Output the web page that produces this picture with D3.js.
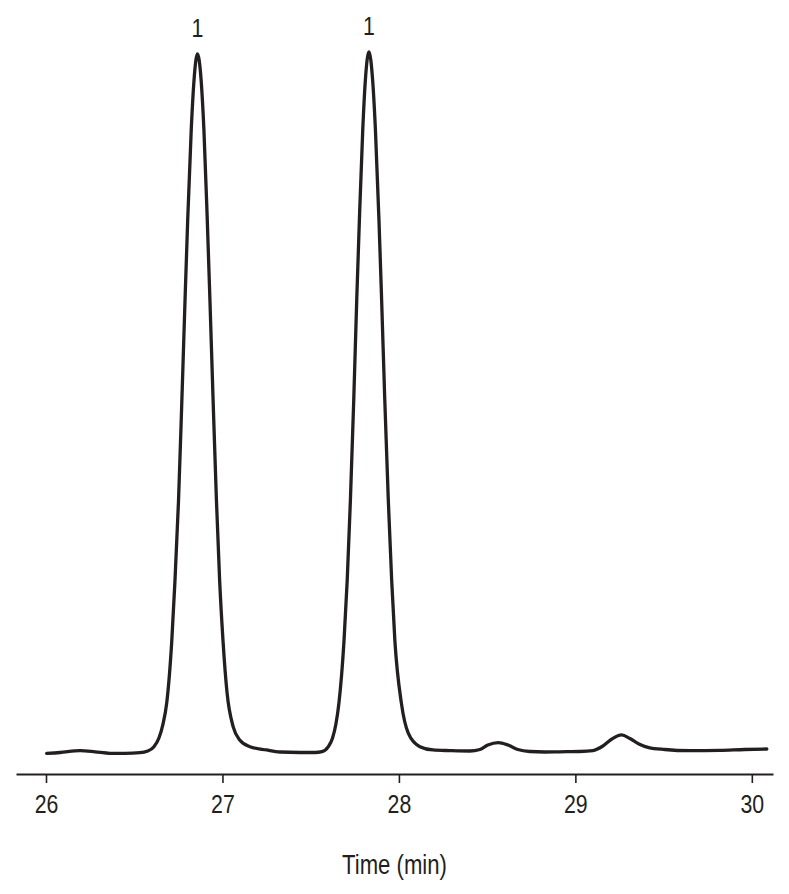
<!DOCTYPE html>
<html>
<head>
<meta charset="utf-8">
<script src="https://cdn.jsdelivr.net/npm/d3@7"></script>
<style>
  html, body { margin: 0; padding: 0; background: #fff; }
  svg { display: block; }
  text { font-family: "Liberation Sans", Arial, sans-serif; fill: #231f20; }
</style>
</head>
<body>
<svg id="chart" width="789" height="894"></svg>
<script>
// Retention time (min)
const times = [
  26.004, 26.079, 26.193, 26.278, 26.363, 26.448, 26.533, 26.572,
  26.612, 26.640, 26.663, 26.684, 26.713, 26.731, 26.751, 26.770,
  26.788, 26.803, 26.823, 26.839, 26.858, 26.879, 26.895, 26.914,
  26.929, 26.947, 26.966, 26.984, 27.003, 27.026, 27.061, 27.099,
  27.156, 27.250, 27.326, 27.439, 27.524, 27.564, 27.600, 27.624,
  27.643, 27.660, 27.689, 27.707, 27.725, 27.744, 27.761, 27.776,
  27.795, 27.810, 27.830, 27.851, 27.867, 27.887, 27.902, 27.920,
  27.940, 27.959, 27.977, 28.014, 28.053, 28.119, 28.193, 28.289,
  28.402, 28.459, 28.504, 28.563, 28.618, 28.674, 28.742, 28.827,
  28.912, 29.025, 29.099, 29.156, 29.207, 29.262, 29.309, 29.360,
  29.416, 29.507, 29.649, 29.819, 29.960, 30.085
];
// Detector signal (relative, % of tallest peak)
const signal = [
  -0.19, -0.07, 0.19, 0.03, -0.19, -0.21, -0.10, 0.10,
  0.76, 2.0, 4.0, 7.0, 16, 24.6, 36, 50.4,
  64.8, 76.2, 89.1, 96.3, 100, 96.3, 89.1, 76.2,
  64.8, 50.4, 36, 24.6, 16, 8.5, 3.6, 1.7,
  0.76, 0.29, 0.0, -0.07, -0.07, 0.05, 0.76, 2.0,
  4.0, 7.0, 16, 24.6, 36, 50.4, 64.8, 76.2,
  89.1, 96.3, 100.3, 96.3, 89.1, 76.2, 64.8, 50.4,
  36, 24.6, 16, 7.0, 2.7, 0.76, 0.29, 0.2,
  0.14, 0.36, 1.0, 1.35, 1.0, 0.36, 0.07, 0.0,
  0.03, 0.07, 0.2, 0.86, 1.86, 2.44, 1.93, 1.15,
  0.64, 0.36, 0.19, 0.24, 0.36, 0.43
];
// Peak annotations
const peakTimes = [26.858, 27.830];
const peakHeights = [100, 100.3];
const peakLabels = ["1", "1"];
// Axis
const xTicks = [26, 27, 28, 29, 30];
const xTitle = "Time (min)";

const svg = d3.select("#chart");
const ink = "#231f20";
const narrow = 0.82;

const x = d3.scaleLinear().domain([25.83, 30.12]).range([16, 773]);
const y = d3.scaleLinear().domain([0, 100]).range([752, 54]);

const data = times.map((t, i) => ({ t, v: signal[i] }));

const line = d3.line()
  .x(d => x(d.t))
  .y(d => y(d.v))
  .curve(d3.curveMonotoneX);

svg.append("path")
  .datum(data)
  .attr("fill", "none")
  .attr("stroke", ink)
  .attr("stroke-width", 3.3)
  .attr("stroke-linejoin", "round")
  .attr("stroke-linecap", "round")
  .attr("d", line);

// Peak labels
svg.selectAll("g.peak")
  .data(peakTimes.map((t, i) => ({ t, v: peakHeights[i], label: peakLabels[i] })))
  .enter().append("g")
  .attr("class", "peak")
  .attr("transform", d => `translate(${x(d.t)},${y(d.v) - 17}) scale(${narrow},1)`)
  .append("text")
  .attr("text-anchor", "middle")
  .style("font-size", "26px")
  .text(d => d.label);

// X axis
const axis = d3.axisBottom(x)
  .tickValues(xTicks)
  .tickFormat(d3.format("d"))
  .tickSize(9)
  .tickSizeOuter(0)
  .tickPadding(12);

const gx = svg.append("g")
  .attr("transform", "translate(0,774)")
  .call(axis);
gx.select(".domain").attr("stroke", ink).attr("stroke-width", 2);
gx.selectAll(".tick line").attr("stroke", ink).attr("stroke-width", 1.6);
gx.selectAll(".tick text")
  .attr("fill", ink)
  .attr("transform", `scale(${narrow},1)`)
  .style("font-family", "'Liberation Sans', Arial, sans-serif")
  .style("font-size", "26px");

svg.append("g")
  .attr("transform", `translate(${(x.range()[0] + x.range()[1]) / 2},874) scale(${narrow},1)`)
  .append("text")
  .attr("text-anchor", "middle")
  .style("font-size", "27px")
  .text(xTitle);
</script>
</body>
</html>
